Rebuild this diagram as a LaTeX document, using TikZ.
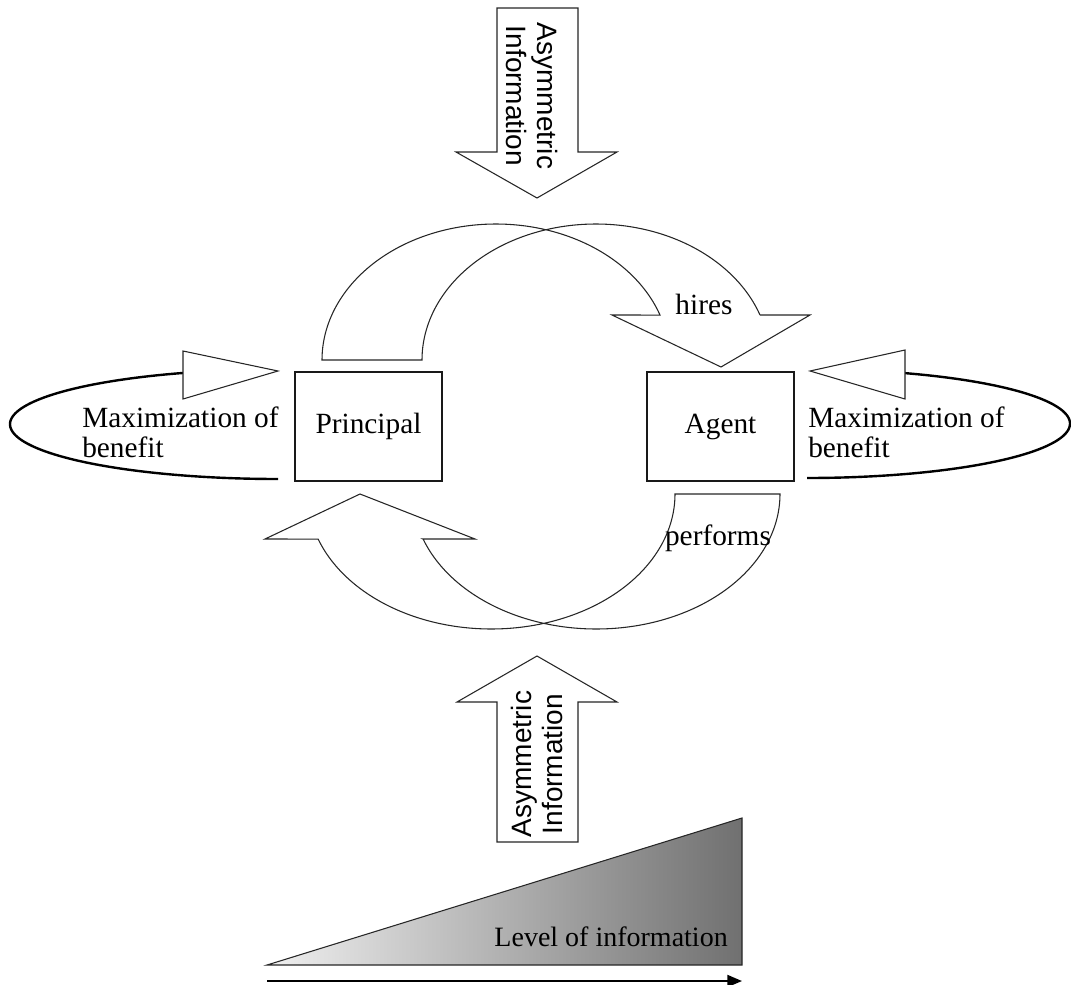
\documentclass[tikz,border=0pt]{standalone}
\usepackage{fontspec}
\setmainfont{Liberation Serif}
\newfontfamily\arrowfont{Liberation Sans}
\usetikzlibrary{arrows.meta}
\begin{document}
\begin{tikzpicture}[x=0.75pt,y=-0.75pt,
  blockarrow/.style={draw=black!85,line width=0.8pt,fill=white,line join=miter},
  loopline/.style={draw=black,line width=1.8pt},
  actor/.style={draw=black!90,line width=1pt,minimum width=110.25pt,minimum height=81.75pt,inner sep=0pt,font=\fontsize{22}{24}\selectfont},
  lbl/.style={inner sep=0pt,font=\fontsize{22}{22.5}\selectfont},
  infolbl/.style={inner sep=0pt,align=center,font=\arrowfont\fontsize{21}{23}\selectfont}]
\useasboundingbox (0,0) rectangle (1071,985);

% actors
\node[actor] (principal) at (368.5,426.5) {Principal};
\node[actor] (agent) at (720.5,426.5) {Agent};

% information arrows from above and below
\draw[blockarrow] (497,8) -- (578,8) -- (578,152) -- (617,152) -- (537,198)
  -- (456,152) -- (497,152) -- cycle;
\node[infolbl,rotate=-90] (infotop) at (532,96) {Asymmetric\\Information};

\draw[blockarrow] (497,842) -- (578,842) -- (578,702) -- (617,702) -- (537,656)
  -- (457,702) -- (497,702) -- cycle;
\node[infolbl,rotate=90] (infobottom) at (537,764) {Asymmetric\\Information};

% curved arrow: principal hires agent
\draw[blockarrow]
  plot[domain=180:340.7,samples=80,smooth] ({495.9+173.9*cos(\x)},{360+136*sin(\x)})
  -- (612,315) -- (721,367) -- (810,315) -- (760,315)
  -- plot[domain=340.7:180,samples=80,smooth] ({595.9+173.9*cos(\x)},{360+136*sin(\x)})
  -- cycle;
\node[lbl] (hires) at (704,304) {hires};

% curved arrow: agent performs for principal
\draw[blockarrow]
  plot[domain=0:160.5,samples=80,smooth] ({491.3+183.7*cos(\x)},{494+135*sin(\x)})
  -- (265,539) -- (360,494) -- (475,539) -- (423,539)
  -- plot[domain=160.5:0,samples=80,smooth] ({596.3+183.7*cos(\x)},{494+135*sin(\x)})
  -- cycle;
\node[lbl] (performs) at (718,538) {performs};

% benefit loops
\draw[loopline] plot[domain=90:249.3,samples=100,smooth] ({278+268*cos(\x)},{424.2+54.8*sin(\x)});
\draw[blockarrow] (183,351) -- (278,371) -- (183,399) -- cycle;
\node[lbl,align=left,anchor=west] (benefitL) at (82,432) {Maximization of\\benefit};

\draw[loopline] plot[domain=-68.1:90,samples=100,smooth] ({807+263*cos(\x)},{423.6+54.4*sin(\x)});
\draw[blockarrow] (905,350) -- (810,371) -- (905,399) -- cycle;
\node[lbl,align=left,anchor=west] (benefitR) at (808,432) {Maximization of\\benefit};

% level of information wedge
\shade[left color=black!6,right color=black!56,draw=black!85,line width=0.8pt]
  (267,965) -- (742,965) -- (742,818) -- cycle;
\node[inner sep=0pt,font=\fontsize{21}{24}\selectfont,anchor=base east] (level) at (728,946) {Level of information};
\coordinate (scaleL) at (267,981);
\coordinate (scaleR) at (742,981);
\draw[line width=1.4pt,-{Triangle[length=11pt,width=9pt]}] (scaleL) -- (scaleR);
\end{tikzpicture}
\end{document}
